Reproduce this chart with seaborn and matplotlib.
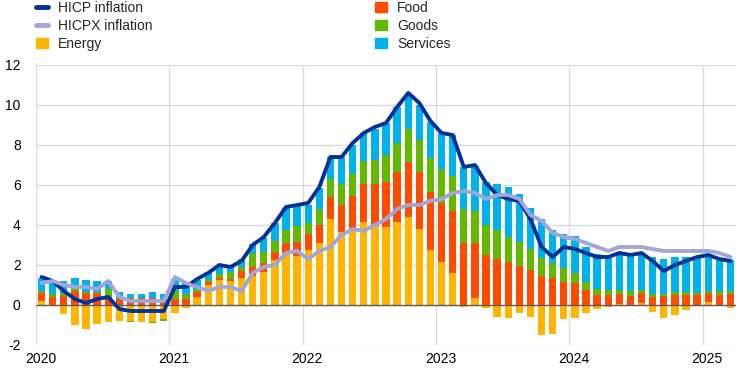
import numpy as np
import pandas as pd
import matplotlib
matplotlib.use("Agg")
import matplotlib.pyplot as plt
from matplotlib.lines import Line2D
from matplotlib.patches import Patch
import seaborn as sns

# monthly data, Jan 2020 - Mar 2025 (annual % changes / percentage point contributions)
years = ["2020", "2021", "2022", "2023", "2024", "2025"]

energy = [0.18, -0.03, -0.45, -0.98, -1.22, -0.93, -0.85, -0.78, -0.82, -0.83, -0.83, -0.68,
          -0.40, -0.16, 0.41, 0.99, 1.24, 1.20, 1.36, 1.46, 1.67, 2.25, 2.61, 2.47,
          2.75, 3.08, 4.28, 3.63, 3.83, 4.17, 3.97, 3.92, 4.17, 4.42, 3.80, 2.75,
          2.17, 1.62, -0.08, 0.37, -0.13, -0.58, -0.63, -0.38, -0.58, -1.50, -1.43, -0.70,
          -0.63, -0.38, -0.20, -0.08, 0.03, 0.02, 0.12, -0.33, -0.63, -0.50, -0.25, 0.01,
          0.17, 0.02, -0.13]
food = [0.42, 0.40, 0.46, 0.68, 0.61, 0.61, 0.38, 0.32, 0.34, 0.36, 0.36, 0.25,
        0.30, 0.28, 0.24, 0.15, 0.13, 0.11, 0.35, 0.43, 0.41, 0.41, 0.48, 0.69,
        0.80, 0.92, 1.10, 1.37, 1.62, 1.88, 2.08, 2.25, 2.50, 2.75, 2.87, 2.92,
        2.92, 3.08, 3.12, 2.75, 2.50, 2.30, 2.17, 1.95, 1.75, 1.47, 1.37, 1.17,
        1.12, 0.75, 0.50, 0.50, 0.50, 0.45, 0.47, 0.42, 0.47, 0.50, 0.50, 0.50,
        0.45, 0.50, 0.55]
goods = [0.08, 0.13, 0.13, 0.11, 0.05, 0.05, 0.42, -0.03, -0.03, -0.03, -0.08, -0.13,
         0.40, 0.27, 0.08, 0.11, 0.19, 0.32, 0.19, 0.70, 0.56, 0.54, 0.65, 0.78,
         0.53, 0.80, 0.92, 1.05, 1.10, 1.15, 1.20, 1.33, 1.45, 1.62, 1.58, 1.70,
         1.72, 1.77, 1.68, 1.58, 1.50, 1.45, 1.22, 1.22, 1.05, 0.90, 0.72, 0.70,
         0.47, 0.42, 0.28, 0.25, 0.20, 0.22, 0.17, 0.13, 0.08, 0.17, 0.17, 0.08,
         0.08, 0.17, 0.15]
services = [0.68, 0.72, 0.59, 0.54, 0.59, 0.54, 0.41, 0.32, 0.23, 0.18, 0.27, 0.32,
            0.59, 0.54, 0.54, 0.38, 0.46, 0.29, 0.38, 0.46, 0.71, 0.88, 1.13, 1.01,
            0.92, 1.03, 1.08, 1.33, 1.45, 1.38, 1.53, 1.58, 1.77, 1.77, 1.75, 1.80,
            1.80, 2.03, 2.12, 2.25, 2.13, 2.30, 2.50, 2.38, 2.03, 1.92, 1.67, 1.67,
            1.84, 1.75, 1.77, 1.67, 1.85, 1.83, 1.83, 1.87, 1.75, 1.75, 1.75, 1.80,
            1.80, 1.67, 1.55]
hicp = [1.4, 1.2, 0.7, 0.3, 0.1, 0.3, 0.4, -0.2, -0.3, -0.3, -0.3, -0.3,
        0.9, 0.9, 1.3, 1.6, 2.0, 1.9, 2.2, 3.0, 3.4, 4.1, 4.9, 5.0,
        5.1, 5.9, 7.4, 7.4, 8.1, 8.6, 8.9, 9.1, 9.9, 10.6, 10.1, 9.2,
        8.6, 8.5, 6.9, 7.0, 6.1, 5.5, 5.3, 5.2, 4.3, 2.9, 2.4, 2.9,
        2.8, 2.6, 2.4, 2.4, 2.6, 2.5, 2.6, 2.2, 1.7, 2.0, 2.2, 2.4,
        2.5, 2.3, 2.2]
hicpx = [1.1, 1.2, 1.0, 0.9, 0.9, 0.8, 1.2, 0.4, 0.2, 0.2, 0.2, 0.2,
         1.4, 1.1, 0.9, 0.7, 0.9, 0.9, 0.7, 1.6, 1.9, 2.0, 2.6, 2.7,
         2.3, 2.7, 2.9, 3.5, 3.8, 3.7, 4.0, 4.3, 4.8, 5.0, 5.0, 5.2,
         5.3, 5.6, 5.7, 5.6, 5.3, 5.5, 5.5, 5.3, 4.5, 4.2, 3.6, 3.4,
         3.3, 3.1, 2.9, 2.7, 2.9, 2.9, 2.9, 2.8, 2.7, 2.7, 2.7, 2.7,
         2.7, 2.6, 2.4]

components = {"Energy": energy, "Food": food, "Goods": goods, "Services": services}
colors = {"Energy": "#FFB400", "Food": "#FF4B00", "Goods": "#65B800", "Services": "#00B1EA"}
c_hicp = "#003299"
c_hicpx = "#A0A6D8"

month = np.arange(len(hicp))
df = pd.DataFrame({"month": month, "HICP": hicp, "HICPX": hicpx})

sns.set_style("white")
plt.rcParams["font.family"] = ["Liberation Sans", "DejaVu Sans"]

fig = plt.figure(figsize=(7.44, 3.72), dpi=100)
ax = fig.add_axes([36 / 744, 1 - 345 / 372, 700 / 744, 280 / 372])

# stacked bars, positives upward and negatives downward
pos = np.zeros(len(month))
neg = np.zeros(len(month))
for name, vals in components.items():
    v = np.array(vals)
    bottom = np.where(v >= 0, pos, neg)
    ax.bar(month, v, bottom=bottom, width=0.66, color=colors[name], linewidth=0, zorder=2)
    pos = pos + np.where(v >= 0, v, 0)
    neg = neg + np.where(v < 0, v, 0)

ax.axhline(0, color="#5a5a5a", lw=1.0, zorder=3)

sns.lineplot(data=df, x="month", y="HICP", ax=ax, color=c_hicp, lw=2.8, zorder=4)
sns.lineplot(data=df, x="month", y="HICPX", ax=ax, color=c_hicpx, lw=2.8, zorder=5)

# grid
year_edges = np.arange(-0.5, len(month), 12)
for xe in year_edges:
    ax.axvline(xe, color="#d9d9d9", lw=0.9, zorder=0)
for yv in range(-2, 13, 2):
    ax.axhline(yv, color="#d9d9d9", lw=0.9, zorder=0)

ax.set_xlim(-0.5, len(month) - 0.5)
ax.set_ylim(-2, 12)
ax.set_yticks(range(-2, 13, 2))
ax.set_yticklabels([str(v) for v in range(-2, 13, 2)])
ax.set_xticks(year_edges + 0.4)
ax.set_xticklabels(years)
ax.tick_params(axis="y", length=0, pad=11, labelsize=10, colors="#000000")
ax.tick_params(axis="x", length=0, pad=5, labelsize=10, colors="#000000")
ax.set_xlabel("")
ax.set_ylabel("")
for s in ax.spines.values():
    s.set_visible(False)

# legend
h1 = [Line2D([], [], color=c_hicp, lw=3.5),
      Line2D([], [], color=c_hicpx, lw=3.5),
      Patch(color=colors["Energy"])]
h2 = [Patch(color=colors[n]) for n in ["Food", "Goods", "Services"]]
kw = dict(loc="upper left", frameon=False, fontsize=10, handlelength=0.85, handleheight=0.75,
          handletextpad=0.75, labelspacing=0.28, borderpad=0, borderaxespad=0)
fig.legend(h1, ["HICP inflation", "HICPX inflation", "Energy"],
           bbox_to_anchor=(36 / 744, 1 - 1 / 372), **kw)
fig.legend(h2, ["Food", "Goods", "Services"],
           bbox_to_anchor=(375 / 744, 1 - 1 / 372), **kw)

fig.savefig("out.png", dpi=100)
